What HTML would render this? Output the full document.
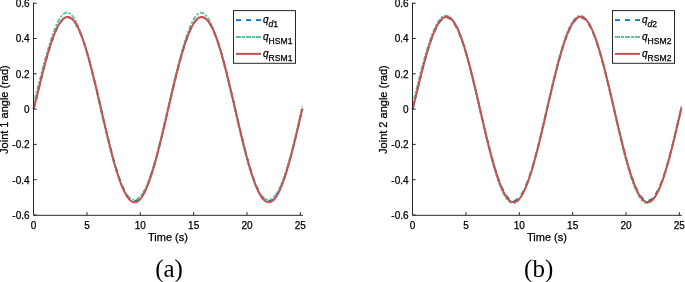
<!DOCTYPE html>
<html><head><meta charset="utf-8"><style>
html,body{margin:0;padding:0;background:#fff;}
body{width:685px;height:282px;overflow:hidden;}
svg{display:block;}
.tl{font-family:"Liberation Sans",Arial,sans-serif;font-size:10px;fill:#000;stroke:#000;stroke-width:0.25px;}
.lg{font-family:"Liberation Sans",Arial,sans-serif;font-size:10px;fill:#000;stroke:#000;stroke-width:0.25px;}
.it{font-style:italic;}
.sub{font-size:8.6px;}
.lb{font-family:"Liberation Sans",Arial,sans-serif;font-size:11px;fill:#000;stroke:#000;stroke-width:0.25px;}
.cap{font-family:"Liberation Serif","Times New Roman",serif;font-size:25px;fill:#000;}
</style></head><body>
<svg width="685" height="282" viewBox="0 0 685 282">
<rect width="685" height="282" fill="#fff"/>
<g transform="translate(0.0,0)">
<path d="M33.60,109.10 L34.27,106.64 L34.94,104.11 L35.62,101.51 L36.29,98.86 L36.96,96.18 L37.63,93.48 L38.30,90.76 L38.98,88.03 L39.65,85.31 L40.32,82.59 L40.99,79.89 L41.66,77.21 L42.34,74.54 L43.01,71.91 L43.68,69.31 L44.35,66.74 L45.02,64.21 L45.70,61.72 L46.37,59.28 L47.04,56.88 L47.71,54.54 L48.38,52.25 L49.06,50.01 L49.73,47.83 L50.40,45.71 L51.07,43.65 L51.74,41.66 L52.42,39.74 L53.09,37.88 L53.76,36.09 L54.43,34.38 L55.10,32.74 L55.78,31.17 L56.45,29.68 L57.12,28.28 L57.79,26.95 L58.46,25.70 L59.14,24.53 L59.81,23.45 L60.48,22.46 L61.15,21.55 L61.82,20.72 L62.50,19.99 L63.17,19.34 L63.84,18.78 L64.51,18.31 L65.18,17.93 L65.86,17.65 L66.53,17.45 L67.20,17.34 L67.87,17.32 L68.54,17.40 L69.22,17.57 L69.89,17.82 L70.56,18.17 L71.23,18.61 L71.90,19.13 L72.58,19.75 L73.25,20.46 L73.92,21.25 L74.59,22.13 L75.27,23.10 L75.94,24.15 L76.61,25.28 L77.28,26.50 L77.95,27.80 L78.63,29.18 L79.30,30.64 L79.97,32.18 L80.64,33.80 L81.31,35.49 L81.99,37.25 L82.66,39.08 L83.33,40.99 L84.00,42.96 L84.67,44.99 L85.35,47.09 L86.02,49.25 L86.69,51.47 L87.36,53.75 L88.03,56.08 L88.71,58.47 L89.38,60.91 L90.05,63.39 L90.72,65.92 L91.39,68.49 L92.07,71.10 L92.74,73.75 L93.41,76.43 L94.08,79.15 L94.75,81.90 L95.43,84.67 L96.10,87.47 L96.77,90.29 L97.44,93.12 L98.11,95.98 L98.79,98.84 L99.46,101.72 L100.13,104.61 L100.80,107.49 L101.47,110.38 L102.15,113.27 L102.82,116.16 L103.49,119.04 L104.16,121.90 L104.83,124.76 L105.51,127.60 L106.18,130.42 L106.85,133.22 L107.52,136.00 L108.19,138.75 L108.87,141.47 L109.54,144.15 L110.21,146.81 L110.88,149.42 L111.55,152.00 L112.23,154.53 L112.90,157.02 L113.57,159.46 L114.24,161.85 L114.91,164.19 L115.59,166.47 L116.26,168.70 L116.93,170.87 L117.60,172.98 L118.27,175.02 L118.95,177.00 L119.62,178.91 L120.29,180.75 L120.96,182.52 L121.63,184.22 L122.31,185.84 L122.98,187.39 L123.65,188.86 L124.32,190.25 L124.99,191.56 L125.67,192.79 L126.34,193.93 L127.01,194.99 L127.68,195.97 L128.35,196.86 L129.03,197.66 L129.70,198.37 L130.37,199.00 L131.04,199.54 L131.71,199.99 L132.39,200.34 L133.06,200.61 L133.73,200.79 L134.40,200.87 L135.07,200.87 L135.75,200.77 L136.42,200.58 L137.09,200.30 L137.76,199.93 L138.43,199.48 L139.11,198.93 L139.78,198.29 L140.45,197.56 L141.12,196.75 L141.79,195.85 L142.47,194.86 L143.14,193.79 L143.81,192.63 L144.48,191.40 L145.15,190.08 L145.83,188.68 L146.50,187.20 L147.17,185.64 L147.84,184.01 L148.51,182.30 L149.19,180.52 L149.86,178.67 L150.53,176.75 L151.20,174.76 L151.87,172.71 L152.55,170.60 L153.22,168.42 L153.89,166.19 L154.56,163.90 L155.23,161.55 L155.91,159.15 L156.58,156.71 L157.25,154.21 L157.92,151.67 L158.60,149.09 L159.27,146.47 L159.94,143.81 L160.61,141.12 L161.28,138.40 L161.96,135.65 L162.63,132.87 L163.30,130.06 L163.97,127.24 L164.64,124.40 L165.32,121.54 L165.99,118.67 L166.66,115.79 L167.33,112.91 L168.00,110.02 L168.68,107.13 L169.35,104.24 L170.02,101.36 L170.69,98.48 L171.36,95.62 L172.04,92.76 L172.71,89.93 L173.38,87.11 L174.05,84.32 L174.72,81.55 L175.40,78.80 L176.07,76.09 L176.74,73.41 L177.41,70.77 L178.08,68.16 L178.76,65.59 L179.43,63.07 L180.10,60.59 L180.77,58.16 L181.44,55.79 L182.12,53.46 L182.79,51.19 L183.46,48.98 L184.13,46.82 L184.80,44.73 L185.48,42.70 L186.15,40.74 L186.82,38.85 L187.49,37.02 L188.16,35.27 L188.84,33.59 L189.51,31.98 L190.18,30.45 L190.85,29.00 L191.52,27.63 L192.20,26.34 L192.87,25.13 L193.54,24.01 L194.21,22.97 L194.88,22.01 L195.56,21.14 L196.23,20.36 L196.90,19.67 L197.57,19.06 L198.24,18.55 L198.92,18.12 L199.59,17.79 L200.26,17.54 L200.93,17.39 L201.60,17.32 L202.28,17.35 L202.95,17.47 L203.62,17.68 L204.29,17.98 L204.96,18.37 L205.64,18.85 L206.31,19.42 L206.98,20.08 L207.65,20.82 L208.32,21.66 L209.00,22.58 L209.67,23.59 L210.34,24.68 L211.01,25.85 L211.68,27.11 L212.36,28.45 L213.03,29.87 L213.70,31.37 L214.37,32.94 L215.04,34.59 L215.72,36.32 L216.39,38.11 L217.06,39.98 L217.73,41.92 L218.40,43.92 L219.08,45.99 L219.75,48.11 L220.42,50.30 L221.09,52.55 L221.76,54.86 L222.44,57.21 L223.11,59.62 L223.78,62.08 L224.45,64.59 L225.12,67.14 L225.80,69.73 L226.47,72.36 L227.14,75.02 L227.81,77.72 L228.48,80.45 L229.16,83.21 L229.83,86.00 L230.50,88.81 L231.17,91.64 L231.84,94.48 L232.52,97.34 L233.19,100.21 L233.86,103.09 L234.53,105.98 L235.20,108.87 L235.88,111.76 L236.55,114.65 L237.22,117.53 L237.89,120.40 L238.56,123.26 L239.24,126.11 L239.91,128.94 L240.58,131.76 L241.25,134.54 L241.93,137.31 L242.60,140.04 L243.27,142.75 L243.94,145.42 L244.61,148.06 L245.29,150.65 L245.96,153.21 L246.63,155.72 L247.30,158.19 L247.97,160.61 L248.65,162.97 L249.32,165.29 L249.99,167.54 L250.66,169.74 L251.33,171.88 L252.01,173.96 L252.68,175.97 L253.35,177.92 L254.02,179.79 L254.69,181.60 L255.37,183.34 L256.04,185.00 L256.71,186.59 L257.38,188.10 L258.05,189.53 L258.73,190.88 L259.40,192.15 L260.07,193.34 L260.74,194.45 L261.41,195.47 L262.09,196.40 L262.76,197.25 L263.43,198.01 L264.10,198.68 L264.77,199.27 L265.45,199.76 L266.12,200.17 L266.79,200.48 L267.46,200.71 L268.13,200.84 L268.81,200.88 L269.48,200.83 L270.15,200.69 L270.82,200.46 L271.49,200.14 L272.17,199.73 L272.84,199.22 L273.51,198.63 L274.18,197.95 L274.85,197.19 L275.53,196.33 L276.20,195.39 L276.87,194.36 L277.54,193.25 L278.21,192.05 L278.89,190.78 L279.56,189.42 L280.23,187.98 L280.90,186.46 L281.57,184.87 L282.25,183.20 L282.92,181.46 L283.59,179.65 L284.26,177.76 L284.93,175.81 L285.61,173.80 L286.28,171.71 L286.95,169.57 L287.62,167.37 L288.29,165.10 L288.97,162.79 L289.64,160.42 L290.31,158.00 L290.98,155.53 L291.65,153.01 L292.33,150.45 L293.00,147.85 L293.67,145.21 L294.34,142.54 L295.01,139.83 L295.69,137.09 L296.36,134.32 L297.03,131.53 L297.70,128.72 L298.37,125.89 L299.05,123.04 L299.72,120.17 L300.39,117.30 L301.06,114.42 L301.73,111.53 L302.41,108.64" fill="none" stroke="#0072BD" stroke-width="1.8" stroke-dasharray="5 5"/>
<path d="M33.60,109.10 L34.27,101.42 L34.94,98.61 L35.62,95.98 L36.29,93.34 L36.96,90.70 L37.63,88.06 L38.30,85.42 L38.98,82.79 L39.65,80.16 L40.32,77.54 L40.99,74.94 L41.66,72.36 L42.34,69.79 L43.01,67.24 L43.68,64.72 L44.35,62.23 L45.02,59.76 L45.70,57.33 L46.37,54.93 L47.04,52.57 L47.71,50.25 L48.38,47.98 L49.06,45.74 L49.73,43.56 L50.40,41.42 L51.07,39.34 L51.74,37.32 L52.42,35.36 L53.09,33.45 L53.76,31.61 L54.43,29.84 L55.10,28.14 L55.78,26.52 L56.45,24.97 L57.12,23.49 L57.79,22.10 L58.46,20.80 L59.14,19.58 L59.81,18.45 L60.48,17.42 L61.15,16.47 L61.82,15.63 L62.50,14.88 L63.17,14.23 L63.84,13.68 L64.51,13.24 L65.18,12.90 L65.86,12.66 L66.53,12.53 L67.20,12.50 L67.87,12.58 L68.54,12.77 L69.22,13.06 L69.89,13.46 L70.56,13.96 L71.23,14.56 L71.90,15.26 L72.58,16.07 L73.25,16.97 L73.92,17.97 L74.59,19.06 L75.27,20.25 L75.94,21.53 L76.61,22.89 L77.28,24.34 L77.95,25.88 L78.63,27.49 L79.30,29.18 L79.97,30.95 L80.64,32.79 L81.31,34.70 L81.99,36.68 L82.66,38.73 L83.33,40.83 L84.00,42.99 L84.67,45.22 L85.35,47.49 L86.02,49.82 L86.69,52.20 L87.36,54.62 L88.03,57.09 L88.71,59.61 L89.38,62.16 L90.05,64.75 L90.72,67.38 L91.39,70.05 L92.07,72.75 L92.74,75.47 L93.41,78.23 L94.08,81.01 L94.75,83.82 L95.43,86.65 L96.10,89.50 L96.77,92.36 L97.44,95.24 L98.11,98.14 L98.79,101.04 L99.46,103.95 L100.13,106.87 L100.80,109.79 L101.47,112.70 L102.15,115.62 L102.82,118.52 L103.49,121.42 L104.16,124.31 L104.83,127.18 L105.51,130.03 L106.18,132.86 L106.85,135.66 L107.52,138.44 L108.19,141.18 L108.87,143.89 L109.54,146.56 L110.21,149.20 L110.88,151.79 L111.55,154.33 L112.23,156.83 L112.90,159.27 L113.57,161.66 L114.24,163.99 L114.91,166.27 L115.59,168.48 L116.26,170.63 L116.93,172.71 L117.60,174.73 L118.27,176.67 L118.95,178.55 L119.62,180.35 L120.29,182.08 L120.96,183.74 L121.63,185.31 L122.31,186.81 L122.98,188.23 L123.65,189.57 L124.32,190.83 L124.99,192.01 L125.67,193.11 L126.34,194.13 L127.01,195.06 L127.68,195.91 L128.35,196.68 L129.03,197.36 L129.70,197.96 L130.37,198.48 L131.04,198.91 L131.71,199.26 L132.39,199.53 L133.06,199.71 L133.73,199.80 L134.40,199.82 L135.07,199.74 L135.75,199.59 L136.42,199.35 L137.09,199.02 L137.76,198.61 L138.43,198.12 L139.11,197.54 L139.78,196.88 L140.45,196.14 L141.12,195.31 L141.79,194.40 L142.47,193.41 L143.14,192.34 L143.81,191.18 L144.48,189.94 L145.15,188.63 L145.83,187.23 L146.50,185.75 L147.17,184.20 L147.84,182.56 L148.51,180.86 L149.19,179.07 L149.86,177.22 L150.53,175.29 L151.20,173.30 L151.87,171.23 L152.55,169.10 L153.22,166.91 L153.89,164.65 L154.56,162.33 L155.23,159.96 L155.91,157.53 L156.58,155.05 L157.25,152.52 L157.92,149.94 L158.60,147.32 L159.27,144.66 L159.94,141.96 L160.61,139.23 L161.28,136.46 L161.96,133.67 L162.63,130.84 L163.30,128.00 L163.97,125.14 L164.64,122.25 L165.32,119.36 L165.99,116.46 L166.66,113.54 L167.33,110.63 L168.00,107.71 L168.68,104.79 L169.35,101.88 L170.02,98.98 L170.69,96.08 L171.36,93.20 L172.04,90.33 L172.71,87.47 L173.38,84.64 L174.05,81.83 L174.72,79.04 L175.40,76.28 L176.07,73.54 L176.74,70.84 L177.41,68.17 L178.08,65.53 L178.76,62.93 L179.43,60.36 L180.10,57.84 L180.77,55.36 L181.44,52.92 L182.12,50.53 L182.79,48.19 L183.46,45.90 L184.13,43.67 L184.80,41.49 L185.48,39.37 L186.15,37.31 L186.82,35.32 L187.49,33.40 L188.16,31.54 L188.84,29.75 L189.51,28.04 L190.18,26.41 L190.85,24.86 L191.52,23.39 L192.20,22.00 L192.87,20.71 L193.54,19.50 L194.21,18.39 L194.88,17.37 L195.56,16.45 L196.23,15.62 L196.90,14.90 L197.57,14.28 L198.24,13.76 L198.92,13.35 L199.59,13.04 L200.26,12.84 L200.93,12.74 L201.60,12.75 L202.28,12.87 L202.95,13.09 L203.62,13.42 L204.29,13.85 L204.96,14.39 L205.64,15.03 L206.31,15.77 L206.98,16.62 L207.65,17.56 L208.32,18.59 L209.00,19.73 L209.67,20.95 L210.34,22.26 L211.01,23.66 L211.68,25.15 L212.36,26.72 L213.03,28.36 L213.70,30.09 L214.37,31.89 L215.04,33.76 L215.72,35.70 L216.39,37.70 L217.06,39.77 L217.73,41.90 L218.40,44.09 L219.08,46.34 L219.75,48.63 L220.42,50.98 L221.09,53.38 L221.76,55.83 L222.44,58.32 L223.11,60.85 L223.78,63.42 L224.45,66.03 L225.12,68.67 L225.80,71.35 L226.47,74.06 L227.14,76.80 L227.81,79.57 L228.48,82.36 L229.16,85.18 L229.83,88.02 L230.50,90.87 L231.17,93.75 L231.84,96.63 L232.52,99.53 L233.19,102.44 L233.86,105.35 L234.53,108.27 L235.20,111.18 L235.88,114.10 L236.55,117.01 L237.22,119.91 L237.89,122.81 L238.56,125.68 L239.24,128.54 L239.91,131.38 L240.58,134.20 L241.25,136.99 L241.93,139.75 L242.60,142.48 L243.27,145.17 L243.94,147.83 L244.61,150.44 L245.29,153.01 L245.96,155.53 L246.63,158.00 L247.30,160.42 L247.97,162.78 L248.65,165.09 L249.32,167.33 L249.99,169.51 L250.66,171.63 L251.33,173.68 L252.01,175.67 L252.68,177.58 L253.35,179.42 L254.02,181.19 L254.69,182.88 L255.37,184.50 L256.04,186.04 L256.71,187.50 L257.38,188.88 L258.05,190.19 L258.73,191.41 L259.40,192.55 L260.07,193.61 L260.74,194.58 L261.41,195.48 L262.09,196.29 L262.76,197.02 L263.43,197.66 L264.10,198.22 L264.77,198.70 L265.45,199.09 L266.12,199.40 L266.79,199.62 L267.46,199.76 L268.13,199.82 L268.81,199.79 L269.48,199.68 L270.15,199.48 L270.82,199.20 L271.49,198.84 L272.17,198.39 L272.84,197.86 L273.51,197.24 L274.18,196.54 L274.85,195.76 L275.53,194.89 L276.20,193.94 L276.87,192.91 L277.54,191.80 L278.21,190.60 L278.89,189.33 L279.56,187.97 L280.23,186.53 L280.90,185.02 L281.57,183.43 L282.25,181.76 L282.92,180.02 L283.59,178.20 L284.26,176.31 L284.93,174.35 L285.61,172.32 L286.28,170.23 L286.95,168.06 L287.62,165.84 L288.29,163.55 L288.97,161.21 L289.64,158.81 L290.31,156.36 L290.98,153.85 L291.65,151.30 L292.33,148.70 L293.00,146.06 L293.67,143.38 L294.34,140.66 L295.01,137.91 L295.69,135.13 L296.36,132.32 L297.03,129.49 L297.70,126.64 L298.37,123.77 L299.05,120.88 L299.72,117.98 L300.39,115.07 L301.06,112.16 L301.73,109.24 L302.41,106.32" fill="none" stroke="#5DC29F" stroke-width="1.8" stroke-dasharray="4.5 1.5 2.5 1.5"/>
<path d="M33.60,109.10 L34.27,106.58 L34.94,103.98 L35.62,101.33 L36.29,98.64 L36.96,95.92 L37.63,93.18 L38.30,90.43 L38.98,87.68 L39.65,84.93 L40.32,82.19 L40.99,79.47 L41.66,76.76 L42.34,74.09 L43.01,71.44 L43.68,68.83 L44.35,66.25 L45.02,63.71 L45.70,61.22 L46.37,58.77 L47.04,56.37 L47.71,54.02 L48.38,51.72 L49.06,49.49 L49.73,47.31 L50.40,45.19 L51.07,43.13 L51.74,41.14 L52.42,39.22 L53.09,37.37 L53.76,35.59 L54.43,33.88 L55.10,32.24 L55.78,30.68 L56.45,29.20 L57.12,27.80 L57.79,26.48 L58.46,25.24 L59.14,24.08 L59.81,23.01 L60.48,22.02 L61.15,21.12 L61.82,20.30 L62.50,19.58 L63.17,18.94 L63.84,18.39 L64.51,17.92 L65.18,17.55 L65.86,17.27 L66.53,17.08 L67.20,16.98 L67.87,16.97 L68.54,17.06 L69.22,17.23 L69.89,17.49 L70.56,17.85 L71.23,18.29 L71.90,18.82 L72.58,19.45 L73.25,20.16 L73.92,20.96 L74.59,21.84 L75.27,22.81 L75.94,23.87 L76.61,25.01 L77.28,26.24 L77.95,27.54 L78.63,28.93 L79.30,30.40 L79.97,31.94 L80.64,33.56 L81.31,35.26 L81.99,37.03 L82.66,38.87 L83.33,40.78 L84.00,42.76 L84.67,44.80 L85.35,46.91 L86.02,49.08 L86.69,51.31 L87.36,53.60 L88.03,55.94 L88.71,58.34 L89.38,60.78 L90.05,63.28 L90.72,65.82 L91.39,68.41 L92.07,71.04 L92.74,73.70 L93.41,76.40 L94.08,79.14 L94.75,81.90 L95.43,84.70 L96.10,87.51 L96.77,90.35 L97.44,93.21 L98.11,96.09 L98.79,98.98 L99.46,101.88 L100.13,104.79 L100.80,107.71 L101.47,110.63 L102.15,113.55 L102.82,116.46 L103.49,119.37 L104.16,122.27 L104.83,125.15 L105.51,128.02 L106.18,130.88 L106.85,133.71 L107.52,136.52 L108.19,139.31 L108.87,142.06 L109.54,144.78 L110.21,147.47 L110.88,150.12 L111.55,152.73 L112.23,155.30 L112.90,157.82 L113.57,160.30 L114.24,162.72 L114.91,165.10 L115.59,167.42 L116.26,169.68 L116.93,171.88 L117.60,174.01 L118.27,176.09 L118.95,178.10 L119.62,180.04 L120.29,181.91 L120.96,183.71 L121.63,185.43 L122.31,187.08 L122.98,188.65 L123.65,190.14 L124.32,191.55 L124.99,192.88 L125.67,194.13 L126.34,195.29 L127.01,196.36 L127.68,197.35 L128.35,198.25 L129.03,199.07 L129.70,199.79 L130.37,200.42 L131.04,200.96 L131.71,201.41 L132.39,201.77 L133.06,202.03 L133.73,202.21 L134.40,202.29 L135.07,202.27 L135.75,202.17 L136.42,201.97 L137.09,201.68 L137.76,201.29 L138.43,200.82 L139.11,200.25 L139.78,199.59 L140.45,198.84 L141.12,198.01 L141.79,197.08 L142.47,196.07 L143.14,194.96 L143.81,193.78 L144.48,192.51 L145.15,191.16 L145.83,189.72 L146.50,188.21 L147.17,186.61 L147.84,184.94 L148.51,183.20 L149.19,181.38 L149.86,179.49 L150.53,177.53 L151.20,175.50 L151.87,173.41 L152.55,171.25 L153.22,169.04 L153.89,166.76 L154.56,164.43 L155.23,162.04 L155.91,159.60 L156.58,157.11 L157.25,154.57 L157.92,151.99 L158.60,149.37 L159.27,146.71 L159.94,144.01 L160.61,141.28 L161.28,138.51 L161.96,135.72 L162.63,132.91 L163.30,130.07 L163.97,127.21 L164.64,124.33 L165.32,121.44 L165.99,118.54 L166.66,115.63 L167.33,112.71 L168.00,109.79 L168.68,106.88 L169.35,103.96 L170.02,101.06 L170.69,98.16 L171.36,95.27 L172.04,92.40 L172.71,89.54 L173.38,86.71 L174.05,83.90 L174.72,81.11 L175.40,78.35 L176.07,75.63 L176.74,72.94 L177.41,70.28 L178.08,67.67 L178.76,65.09 L179.43,62.56 L180.10,60.08 L180.77,57.65 L181.44,55.27 L182.12,52.94 L182.79,50.67 L183.46,48.45 L184.13,46.30 L184.80,44.21 L185.48,42.18 L186.15,40.22 L186.82,38.33 L187.49,36.51 L188.16,34.77 L188.84,33.09 L189.51,31.49 L190.18,29.97 L190.85,28.53 L191.52,27.16 L192.20,25.88 L192.87,24.68 L193.54,23.56 L194.21,22.53 L194.88,21.58 L195.56,20.72 L196.23,19.95 L196.90,19.26 L197.57,18.66 L198.24,18.15 L198.92,17.74 L199.59,17.41 L200.26,17.17 L200.93,17.02 L201.60,16.97 L202.28,17.00 L202.95,17.13 L203.62,17.34 L204.29,17.65 L204.96,18.05 L205.64,18.53 L206.31,19.11 L206.98,19.77 L207.65,20.53 L208.32,21.37 L209.00,22.29 L209.67,23.31 L210.34,24.40 L211.01,25.58 L211.68,26.85 L212.36,28.19 L213.03,29.62 L213.70,31.12 L214.37,32.70 L215.04,34.36 L215.72,36.09 L216.39,37.89 L217.06,39.77 L217.73,41.71 L218.40,43.72 L219.08,45.80 L219.75,47.93 L220.42,50.13 L221.09,52.39 L221.76,54.71 L222.44,57.07 L223.11,59.50 L223.78,61.97 L224.45,64.49 L225.12,67.05 L225.80,69.65 L226.47,72.30 L227.14,74.98 L227.81,77.70 L228.48,80.45 L229.16,83.23 L229.83,86.03 L230.50,88.86 L231.17,91.71 L231.84,94.58 L232.52,97.47 L233.19,100.36 L233.86,103.27 L234.53,106.18 L235.20,109.10 L235.88,112.02 L236.55,114.93 L237.22,117.85 L237.89,120.75 L238.56,123.64 L239.24,126.52 L239.91,129.39 L240.58,132.23 L241.25,135.05 L241.93,137.85 L242.60,140.62 L243.27,143.36 L243.94,146.07 L244.61,148.74 L245.29,151.37 L245.96,153.96 L246.63,156.51 L247.30,159.01 L247.97,161.46 L248.65,163.86 L249.32,166.21 L249.99,168.50 L250.66,170.73 L251.33,172.90 L252.01,175.01 L252.68,177.05 L253.35,179.03 L254.02,180.94 L254.69,182.77 L255.37,184.54 L256.04,186.22 L256.71,187.84 L257.38,189.37 L258.05,190.82 L258.73,192.19 L259.40,193.48 L260.07,194.69 L260.74,195.81 L261.41,196.85 L262.09,197.79 L262.76,198.65 L263.43,199.42 L264.10,200.10 L264.77,200.69 L265.45,201.19 L266.12,201.59 L266.79,201.91 L267.46,202.13 L268.13,202.26 L268.81,202.29 L269.48,202.23 L270.15,202.08 L270.82,201.84 L271.49,201.50 L272.17,201.08 L272.84,200.56 L273.51,199.95 L274.18,199.25 L274.85,198.45 L275.53,197.58 L276.20,196.61 L276.87,195.55 L277.54,194.41 L278.21,193.18 L278.89,191.88 L279.56,190.48 L280.23,189.01 L280.90,187.46 L281.57,185.83 L282.25,184.12 L282.92,182.34 L283.59,180.49 L284.26,178.57 L284.93,176.57 L285.61,174.51 L286.28,172.39 L286.95,170.20 L287.62,167.96 L288.29,165.65 L288.97,163.29 L289.64,160.88 L290.31,158.42 L290.98,155.91 L291.65,153.35 L292.33,150.75 L293.00,148.11 L293.67,145.43 L294.34,142.71 L295.01,139.96 L295.69,137.19 L296.36,134.38 L297.03,131.56 L297.70,128.71 L298.37,125.84 L299.05,122.95 L299.72,120.06 L300.39,117.15 L301.06,114.24 L301.73,111.32 L302.41,108.41" fill="none" stroke="#C8504F" stroke-width="2"/>
<path d="M33.5,2.7 V215.3 H302.91" fill="none" stroke="#262626" stroke-width="1"/>
<path d="M33.5,215.00 h3.2" stroke="#262626" stroke-width="1"/>
<text x="29.6" y="218.90" text-anchor="end" class="tl">-0.6</text>
<path d="M33.5,179.70 h3.2" stroke="#262626" stroke-width="1"/>
<text x="29.6" y="183.60" text-anchor="end" class="tl">-0.4</text>
<path d="M33.5,144.40 h3.2" stroke="#262626" stroke-width="1"/>
<text x="29.6" y="148.30" text-anchor="end" class="tl">-0.2</text>
<path d="M33.5,109.10 h3.2" stroke="#262626" stroke-width="1"/>
<text x="29.6" y="113.00" text-anchor="end" class="tl">0</text>
<path d="M33.5,73.80 h3.2" stroke="#262626" stroke-width="1"/>
<text x="29.6" y="77.70" text-anchor="end" class="tl">0.2</text>
<path d="M33.5,38.50 h3.2" stroke="#262626" stroke-width="1"/>
<text x="29.6" y="42.40" text-anchor="end" class="tl">0.4</text>
<path d="M33.5,3.20 h3.2" stroke="#262626" stroke-width="1"/>
<text x="29.6" y="7.10" text-anchor="end" class="tl">0.6</text>
<text x="33.60" y="228.8" text-anchor="middle" class="tl">0</text>
<path d="M86.95,215.3 v-3.2" stroke="#262626" stroke-width="1"/>
<text x="86.95" y="228.8" text-anchor="middle" class="tl">5</text>
<path d="M140.30,215.3 v-3.2" stroke="#262626" stroke-width="1"/>
<text x="140.30" y="228.8" text-anchor="middle" class="tl">10</text>
<path d="M193.65,215.3 v-3.2" stroke="#262626" stroke-width="1"/>
<text x="193.65" y="228.8" text-anchor="middle" class="tl">15</text>
<path d="M247.00,215.3 v-3.2" stroke="#262626" stroke-width="1"/>
<text x="247.00" y="228.8" text-anchor="middle" class="tl">20</text>
<path d="M300.35,215.3 v-3.2" stroke="#262626" stroke-width="1"/>
<text x="300.35" y="228.8" text-anchor="middle" class="tl">25</text>
<text x="168" y="240.9" text-anchor="middle" class="lb">Time (s)</text>
<text transform="translate(8.0,109.6) rotate(-90)" text-anchor="middle" class="lb">Joint 1 angle (rad)</text>
<rect x="233.5" y="10.6" width="62" height="52.7" fill="#fff" stroke="#262626" stroke-width="1"/>
<path d="M236,20.1 H261" stroke="#0072BD" stroke-width="1.8" stroke-dasharray="5 5"/>
<path d="M236,37 H261" stroke="#5DC29F" stroke-width="1.8" stroke-dasharray="5 1 3 1"/>
<path d="M236,53.9 H261" stroke="#C8504F" stroke-width="2"/>
<text x="263" y="22.5" class="lg"><tspan class="it">q</tspan><tspan class="sub" dy="4.3"><tspan class="it">d</tspan>1</tspan></text>
<text x="263" y="39.55" class="lg"><tspan class="it">q</tspan><tspan class="sub" dy="4.3">HSM1</tspan></text>
<text x="263" y="56.6" class="lg"><tspan class="it">q</tspan><tspan class="sub" dy="4.3">RSM1</tspan></text>
</g>
<g transform="translate(379.0,0)">
<path d="M33.60,109.10 L34.27,106.48 L34.94,103.80 L35.62,101.10 L36.29,98.37 L36.96,95.62 L37.63,92.86 L38.30,90.10 L38.98,87.35 L39.65,84.61 L40.32,81.88 L40.99,79.17 L41.66,76.48 L42.34,73.82 L43.01,71.19 L43.68,68.60 L44.35,66.04 L45.02,63.52 L45.70,61.05 L46.37,58.62 L47.04,56.25 L47.71,53.92 L48.38,51.65 L49.06,49.43 L49.73,47.27 L50.40,45.18 L51.07,43.14 L51.74,41.18 L52.42,39.27 L53.09,37.44 L53.76,35.68 L54.43,33.99 L55.10,32.38 L55.78,30.84 L56.45,29.38 L57.12,28.00 L57.79,26.70 L58.46,25.48 L59.14,24.35 L59.81,23.29 L60.48,22.33 L61.15,21.44 L61.82,20.65 L62.50,19.94 L63.17,19.33 L63.84,18.80 L64.51,18.36 L65.18,18.01 L65.86,17.75 L66.53,17.58 L67.20,17.50 L67.87,17.52 L68.54,17.62 L69.22,17.81 L69.89,18.10 L70.56,18.47 L71.23,18.94 L71.90,19.49 L72.58,20.14 L73.25,20.87 L73.92,21.69 L74.59,22.59 L75.27,23.58 L75.94,24.66 L76.61,25.82 L77.28,27.06 L77.95,28.39 L78.63,29.79 L79.30,31.27 L79.97,32.83 L80.64,34.47 L81.31,36.18 L81.99,37.96 L82.66,39.81 L83.33,41.73 L84.00,43.72 L84.67,45.77 L85.35,47.89 L86.02,50.07 L86.69,52.30 L87.36,54.59 L88.03,56.94 L88.71,59.33 L89.38,61.78 L90.05,64.27 L90.72,66.81 L91.39,69.39 L92.07,72.01 L92.74,74.66 L93.41,77.35 L94.08,80.08 L94.75,82.83 L95.43,85.60 L96.10,88.40 L96.77,91.22 L97.44,94.06 L98.11,96.91 L98.79,99.78 L99.46,102.65 L100.13,105.53 L100.80,108.41 L101.47,111.30 L102.15,114.18 L102.82,117.06 L103.49,119.93 L104.16,122.78 L104.83,125.63 L105.51,128.46 L106.18,131.27 L106.85,134.06 L107.52,136.82 L108.19,139.55 L108.87,142.26 L109.54,144.93 L110.21,147.57 L110.88,150.17 L111.55,152.72 L112.23,155.24 L112.90,157.71 L113.57,160.13 L114.24,162.50 L114.91,164.81 L115.59,167.08 L116.26,169.28 L116.93,171.43 L117.60,173.51 L118.27,175.53 L118.95,177.48 L119.62,179.37 L120.29,181.18 L120.96,182.93 L121.63,184.60 L122.31,186.19 L122.98,187.71 L123.65,189.15 L124.32,190.52 L124.99,191.80 L125.67,193.00 L126.34,194.11 L127.01,195.15 L127.68,196.09 L128.35,196.95 L129.03,197.73 L129.70,198.41 L130.37,199.01 L131.04,199.52 L131.71,199.93 L132.39,200.26 L133.06,200.50 L133.73,200.65 L134.40,200.70 L135.07,200.67 L135.75,200.54 L136.42,200.33 L137.09,200.02 L137.76,199.62 L138.43,199.14 L139.11,198.56 L139.78,197.90 L140.45,197.14 L141.12,196.30 L141.79,195.38 L142.47,194.37 L143.14,193.27 L143.81,192.09 L144.48,190.83 L145.15,189.49 L145.83,188.06 L146.50,186.56 L147.17,184.98 L147.84,183.33 L148.51,181.60 L149.19,179.80 L149.86,177.94 L150.53,176.00 L151.20,173.99 L151.87,171.93 L152.55,169.80 L153.22,167.61 L153.89,165.36 L154.56,163.05 L155.23,160.70 L155.91,158.29 L156.58,155.83 L157.25,153.33 L157.92,150.78 L158.60,148.19 L159.27,145.56 L159.94,142.90 L160.61,140.20 L161.28,137.47 L161.96,134.72 L162.63,131.93 L163.30,129.13 L163.97,126.31 L164.64,123.46 L165.32,120.61 L165.99,117.74 L166.66,114.87 L167.33,111.98 L168.00,109.10 L168.68,106.22 L169.35,103.33 L170.02,100.46 L170.69,97.59 L171.36,94.74 L172.04,91.89 L172.71,89.07 L173.38,86.27 L174.05,83.48 L174.72,80.73 L175.40,78.00 L176.07,75.30 L176.74,72.64 L177.41,70.01 L178.08,67.42 L178.76,64.87 L179.43,62.37 L180.10,59.91 L180.77,57.50 L181.44,55.15 L182.12,52.84 L182.79,50.59 L183.46,48.40 L184.13,46.27 L184.80,44.21 L185.48,42.20 L186.15,40.26 L186.82,38.40 L187.49,36.60 L188.16,34.87 L188.84,33.22 L189.51,31.64 L190.18,30.14 L190.85,28.71 L191.52,27.37 L192.20,26.11 L192.87,24.93 L193.54,23.83 L194.21,22.82 L194.88,21.90 L195.56,21.06 L196.23,20.30 L196.90,19.64 L197.57,19.06 L198.24,18.58 L198.92,18.18 L199.59,17.87 L200.26,17.66 L200.93,17.53 L201.60,17.50 L202.28,17.55 L202.95,17.70 L203.62,17.94 L204.29,18.27 L204.96,18.68 L205.64,19.19 L206.31,19.79 L206.98,20.47 L207.65,21.25 L208.32,22.11 L209.00,23.05 L209.67,24.09 L210.34,25.20 L211.01,26.40 L211.68,27.68 L212.36,29.05 L213.03,30.49 L213.70,32.01 L214.37,33.60 L215.04,35.27 L215.72,37.02 L216.39,38.83 L217.06,40.72 L217.73,42.67 L218.40,44.69 L219.08,46.77 L219.75,48.92 L220.42,51.12 L221.09,53.39 L221.76,55.70 L222.44,58.07 L223.11,60.49 L223.78,62.96 L224.45,65.48 L225.12,68.03 L225.80,70.63 L226.47,73.27 L227.14,75.94 L227.81,78.65 L228.48,81.38 L229.16,84.14 L229.83,86.93 L230.50,89.74 L231.17,92.57 L231.84,95.42 L232.52,98.27 L233.19,101.14 L233.86,104.02 L234.53,106.90 L235.20,109.79 L235.88,112.67 L236.55,115.55 L237.22,118.42 L237.89,121.29 L238.56,124.14 L239.24,126.98 L239.91,129.80 L240.58,132.60 L241.25,135.37 L241.93,138.12 L242.60,140.85 L243.27,143.54 L243.94,146.19 L244.61,148.81 L245.29,151.39 L245.96,153.93 L246.63,156.42 L247.30,158.87 L247.97,161.26 L248.65,163.61 L249.32,165.90 L249.99,168.13 L250.66,170.31 L251.33,172.43 L252.01,174.48 L252.68,176.47 L253.35,178.39 L254.02,180.24 L254.69,182.02 L255.37,183.73 L256.04,185.37 L256.71,186.93 L257.38,188.41 L258.05,189.81 L258.73,191.14 L259.40,192.38 L260.07,193.54 L260.74,194.62 L261.41,195.61 L262.09,196.51 L262.76,197.33 L263.43,198.06 L264.10,198.71 L264.77,199.26 L265.45,199.73 L266.12,200.10 L266.79,200.39 L267.46,200.58 L268.13,200.68 L268.81,200.70 L269.48,200.62 L270.15,200.45 L270.82,200.19 L271.49,199.84 L272.17,199.40 L272.84,198.87 L273.51,198.26 L274.18,197.55 L274.85,196.76 L275.53,195.87 L276.20,194.91 L276.87,193.85 L277.54,192.72 L278.21,191.50 L278.89,190.20 L279.56,188.82 L280.23,187.36 L280.90,185.82 L281.57,184.20 L282.25,182.52 L282.92,180.75 L283.59,178.92 L284.26,177.02 L284.93,175.05 L285.61,173.02 L286.28,170.92 L286.95,168.76 L287.62,166.54 L288.29,164.27 L288.97,161.94 L289.64,159.56 L290.31,157.12 L290.98,154.64 L291.65,152.12 L292.33,149.55 L293.00,146.94 L293.67,144.30 L294.34,141.62 L295.01,138.90 L295.69,136.16 L296.36,133.39 L297.03,130.60 L297.70,127.79 L298.37,124.95 L299.05,122.11 L299.72,119.24 L300.39,116.37 L301.06,113.49 L301.73,110.61 L302.41,107.73" fill="none" stroke="#0072BD" stroke-width="1.8" stroke-dasharray="5 5"/>
<path d="M33.60,109.10 L34.27,102.18 L34.94,99.32 L35.62,96.61 L36.29,93.90 L36.96,91.19 L37.63,88.49 L38.30,85.78 L38.98,83.09 L39.65,80.42 L40.32,77.75 L40.99,75.11 L41.66,72.50 L42.34,69.90 L43.01,67.34 L43.68,64.81 L44.35,62.32 L45.02,59.87 L45.70,57.46 L46.37,55.09 L47.04,52.77 L47.71,50.50 L48.38,48.28 L49.06,46.12 L49.73,44.01 L50.40,41.97 L51.07,39.99 L51.74,38.07 L52.42,36.21 L53.09,34.43 L53.76,32.72 L54.43,31.08 L55.10,29.51 L55.78,28.02 L56.45,26.61 L57.12,25.28 L57.79,24.02 L58.46,22.85 L59.14,21.76 L59.81,20.76 L60.48,19.84 L61.15,19.01 L61.82,18.27 L62.50,17.61 L63.17,17.05 L63.84,16.57 L64.51,16.18 L65.18,15.89 L65.86,15.68 L66.53,15.57 L67.20,15.54 L67.87,15.61 L68.54,15.77 L69.22,16.02 L69.89,16.37 L70.56,16.80 L71.23,17.32 L71.90,17.94 L72.58,18.64 L73.25,19.43 L73.92,20.31 L74.59,21.28 L75.27,22.34 L75.94,23.48 L76.61,24.70 L77.28,26.01 L77.95,27.40 L78.63,28.87 L79.30,30.41 L79.97,32.04 L80.64,33.74 L81.31,35.52 L81.99,37.37 L82.66,39.29 L83.33,41.28 L84.00,43.34 L84.67,45.46 L85.35,47.65 L86.02,49.89 L86.69,52.20 L87.36,54.56 L88.03,56.98 L88.71,59.44 L89.38,61.96 L90.05,64.53 L90.72,67.13 L91.39,69.79 L92.07,72.48 L92.74,75.20 L93.41,77.97 L94.08,80.76 L94.75,83.58 L95.43,86.43 L96.10,89.30 L96.77,92.19 L97.44,95.10 L98.11,98.02 L98.79,100.95 L99.46,103.89 L100.13,106.84 L100.80,109.79 L101.47,112.75 L102.15,115.69 L102.82,118.64 L103.49,121.57 L104.16,124.49 L104.83,127.40 L105.51,130.29 L106.18,133.16 L106.85,136.01 L107.52,138.83 L108.19,141.62 L108.87,144.38 L109.54,147.10 L110.21,149.79 L110.88,152.44 L111.55,155.05 L112.23,157.61 L112.90,160.12 L113.57,162.58 L114.24,164.99 L114.91,167.35 L115.59,169.64 L116.26,171.88 L116.93,174.06 L117.60,176.17 L118.27,178.21 L118.95,180.19 L119.62,182.10 L120.29,183.93 L120.96,185.69 L121.63,187.37 L122.31,188.98 L122.98,190.51 L123.65,191.95 L124.32,193.32 L124.99,194.60 L125.67,195.79 L126.34,196.90 L127.01,197.92 L127.68,198.85 L128.35,199.70 L129.03,200.45 L129.70,201.12 L130.37,201.69 L131.04,202.17 L131.71,202.55 L132.39,202.85 L133.06,203.05 L133.73,203.15 L134.40,203.17 L135.07,203.09 L135.75,202.91 L136.42,202.65 L137.09,202.29 L137.76,201.83 L138.43,201.29 L139.11,200.65 L139.78,199.92 L140.45,199.10 L141.12,198.20 L141.79,197.20 L142.47,196.12 L143.14,194.95 L143.81,193.69 L144.48,192.35 L145.15,190.93 L145.83,189.42 L146.50,187.84 L147.17,186.18 L147.84,184.44 L148.51,182.63 L149.19,180.74 L149.86,178.79 L150.53,176.76 L151.20,174.67 L151.87,172.51 L152.55,170.29 L153.22,168.01 L153.89,165.67 L154.56,163.28 L155.23,160.83 L155.91,158.33 L156.58,155.78 L157.25,153.19 L157.92,150.55 L158.60,147.88 L159.27,145.16 L159.94,142.41 L160.61,139.63 L161.28,136.82 L161.96,133.98 L162.63,131.12 L163.30,128.23 L163.97,125.33 L164.64,122.41 L165.32,119.48 L165.99,116.54 L166.66,113.60 L167.33,110.65 L168.00,107.69 L168.68,104.75 L169.35,101.80 L170.02,98.86 L170.69,95.94 L171.36,93.03 L172.04,90.13 L172.71,87.26 L173.38,84.40 L174.05,81.58 L174.72,78.78 L175.40,76.01 L176.07,73.27 L176.74,70.57 L177.41,67.91 L178.08,65.29 L178.76,62.71 L179.43,60.18 L180.10,57.70 L180.77,55.27 L181.44,52.90 L182.12,50.58 L182.79,48.31 L183.46,46.11 L184.13,43.98 L184.80,41.90 L185.48,39.90 L186.15,37.96 L186.82,36.09 L187.49,34.30 L188.16,32.58 L188.84,30.93 L189.51,29.36 L190.18,27.88 L190.85,26.47 L191.52,25.14 L192.20,23.90 L192.87,22.74 L193.54,21.67 L194.21,20.68 L194.88,19.78 L195.56,18.97 L196.23,18.25 L196.90,17.62 L197.57,17.08 L198.24,16.62 L198.92,16.27 L199.59,16.00 L200.26,15.82 L200.93,15.74 L201.60,15.75 L202.28,15.85 L202.95,16.04 L203.62,16.33 L204.29,16.70 L204.96,17.17 L205.64,17.73 L206.31,18.38 L206.98,19.12 L207.65,19.95 L208.32,20.86 L209.00,21.87 L209.67,22.95 L210.34,24.13 L211.01,25.39 L211.68,26.73 L212.36,28.15 L213.03,29.66 L213.70,31.24 L214.37,32.90 L215.04,34.63 L215.72,36.44 L216.39,38.32 L217.06,40.27 L217.73,42.29 L218.40,44.38 L219.08,46.53 L219.75,48.74 L220.42,51.01 L221.09,53.34 L221.76,55.73 L222.44,58.17 L223.11,60.66 L223.78,63.20 L224.45,65.78 L225.12,68.41 L225.80,71.08 L226.47,73.79 L227.14,76.53 L227.81,79.31 L228.48,82.11 L229.16,84.95 L229.83,87.80 L230.50,90.68 L231.17,93.58 L231.84,96.50 L232.52,99.42 L233.19,102.36 L233.86,105.31 L234.53,108.26 L235.20,111.21 L235.88,114.16 L236.55,117.10 L237.22,120.04 L237.89,122.97 L238.56,125.89 L239.24,128.79 L239.91,131.67 L240.58,134.52 L241.25,137.36 L241.93,140.16 L242.60,142.94 L243.27,145.68 L243.94,148.39 L244.61,151.06 L245.29,153.69 L245.96,156.27 L246.63,158.81 L247.30,161.30 L247.97,163.74 L248.65,166.12 L249.32,168.45 L249.99,170.72 L250.66,172.93 L251.33,175.07 L252.01,177.15 L252.68,179.16 L253.35,181.11 L254.02,182.98 L254.69,184.78 L255.37,186.50 L256.04,188.15 L256.71,189.72 L257.38,191.21 L258.05,192.61 L258.73,193.94 L259.40,195.18 L260.07,196.33 L260.74,197.40 L261.41,198.38 L262.09,199.27 L262.76,200.07 L263.43,200.78 L264.10,201.40 L264.77,201.93 L265.45,202.36 L266.12,202.71 L266.79,202.95 L267.46,203.11 L268.13,203.17 L268.81,203.14 L269.48,203.02 L270.15,202.80 L270.82,202.49 L271.49,202.08 L272.17,201.59 L272.84,201.00 L273.51,200.32 L274.18,199.54 L274.85,198.68 L275.53,197.73 L276.20,196.70 L276.87,195.57 L277.54,194.36 L278.21,193.06 L278.89,191.68 L279.56,190.22 L280.23,188.68 L280.90,187.06 L281.57,185.36 L282.25,183.59 L282.92,181.74 L283.59,179.82 L284.26,177.83 L284.93,175.77 L285.61,173.65 L286.28,171.46 L286.95,169.21 L287.62,166.90 L288.29,164.54 L288.97,162.12 L289.64,159.65 L290.31,157.12 L290.98,154.55 L291.65,151.94 L292.33,149.28 L293.00,146.59 L293.67,143.86 L294.34,141.09 L295.01,138.30 L295.69,135.47 L296.36,132.62 L297.03,129.75 L297.70,126.85 L298.37,123.94 L299.05,121.02 L299.72,118.08 L300.39,115.14 L301.06,112.19 L301.73,109.24 L302.41,106.29" fill="none" stroke="#5DC29F" stroke-width="1.8" stroke-dasharray="4.5 1.5 2.5 1.5"/>
<path d="M33.60,109.10 L34.27,106.53 L34.94,103.90 L35.62,101.22 L36.29,98.51 L36.96,95.77 L37.63,93.01 L38.30,90.25 L38.98,87.48 L39.65,84.73 L40.32,81.98 L40.99,79.25 L41.66,76.54 L42.34,73.86 L43.01,71.21 L43.68,68.59 L44.35,66.01 L45.02,63.47 L45.70,60.98 L46.37,58.53 L47.04,56.12 L47.71,53.77 L48.38,51.48 L49.06,49.24 L49.73,47.06 L50.40,44.94 L51.07,42.88 L51.74,40.89 L52.42,38.97 L53.09,37.12 L53.76,35.34 L54.43,33.63 L55.10,31.99 L55.78,30.44 L56.45,28.96 L57.12,27.56 L57.79,26.24 L58.46,25.00 L59.14,23.84 L59.81,22.77 L60.48,21.79 L61.15,20.89 L61.82,20.08 L62.50,19.35 L63.17,18.72 L63.84,18.17 L64.51,17.72 L65.18,17.35 L65.86,17.08 L66.53,16.90 L67.20,16.80 L67.87,16.80 L68.54,16.89 L69.22,17.07 L69.89,17.34 L70.56,17.71 L71.23,18.16 L71.90,18.70 L72.58,19.33 L73.25,20.05 L73.92,20.86 L74.59,21.76 L75.27,22.74 L75.94,23.81 L76.61,24.96 L77.28,26.19 L77.95,27.51 L78.63,28.91 L79.30,30.39 L79.97,31.94 L80.64,33.58 L81.31,35.28 L81.99,37.06 L82.66,38.91 L83.33,40.84 L84.00,42.82 L84.67,44.88 L85.35,47.00 L86.02,49.18 L86.69,51.42 L87.36,53.72 L88.03,56.07 L88.71,58.48 L89.38,60.93 L90.05,63.44 L90.72,65.99 L91.39,68.58 L92.07,71.22 L92.74,73.89 L93.41,76.60 L94.08,79.34 L94.75,82.11 L95.43,84.91 L96.10,87.73 L96.77,90.57 L97.44,93.44 L98.11,96.32 L98.79,99.21 L99.46,102.11 L100.13,105.03 L100.80,107.94 L101.47,110.86 L102.15,113.78 L102.82,116.69 L103.49,119.60 L104.16,122.49 L104.83,125.38 L105.51,128.24 L106.18,131.09 L106.85,133.92 L107.52,136.73 L108.19,139.51 L108.87,142.25 L109.54,144.97 L110.21,147.65 L110.88,150.30 L111.55,152.90 L112.23,155.46 L112.90,157.97 L113.57,160.44 L114.24,162.86 L114.91,165.22 L115.59,167.53 L116.26,169.78 L116.93,171.97 L117.60,174.10 L118.27,176.16 L118.95,178.16 L119.62,180.09 L120.29,181.94 L120.96,183.73 L121.63,185.44 L122.31,187.08 L122.98,188.64 L123.65,190.12 L124.32,191.52 L124.99,192.84 L125.67,194.07 L126.34,195.23 L127.01,196.29 L127.68,197.27 L128.35,198.16 L129.03,198.96 L129.70,199.67 L130.37,200.30 L131.04,200.83 L131.71,201.27 L132.39,201.62 L133.06,201.88 L133.73,202.04 L134.40,202.11 L135.07,202.09 L135.75,201.98 L136.42,201.77 L137.09,201.47 L137.76,201.09 L138.43,200.60 L139.11,200.03 L139.78,199.37 L140.45,198.62 L141.12,197.77 L141.79,196.84 L142.47,195.83 L143.14,194.72 L143.81,193.54 L144.48,192.26 L145.15,190.91 L145.83,189.47 L146.50,187.96 L147.17,186.36 L147.84,184.69 L148.51,182.95 L149.19,181.13 L149.86,179.24 L150.53,177.28 L151.20,175.25 L151.87,173.16 L152.55,171.00 L153.22,168.78 L153.89,166.51 L154.56,164.18 L155.23,161.79 L155.91,159.35 L156.58,156.86 L157.25,154.33 L157.92,151.75 L158.60,149.13 L159.27,146.47 L159.94,143.77 L160.61,141.04 L161.28,138.28 L161.96,135.49 L162.63,132.67 L163.30,129.83 L163.97,126.97 L164.64,124.10 L165.32,121.21 L165.99,118.31 L166.66,115.40 L167.33,112.48 L168.00,109.56 L168.68,106.65 L169.35,103.73 L170.02,100.82 L170.69,97.92 L171.36,95.04 L172.04,92.16 L172.71,89.31 L173.38,86.47 L174.05,83.66 L174.72,80.87 L175.40,78.12 L176.07,75.39 L176.74,72.70 L177.41,70.04 L178.08,67.42 L178.76,64.85 L179.43,62.32 L180.10,59.84 L180.77,57.40 L181.44,55.02 L182.12,52.69 L182.79,50.42 L183.46,48.20 L184.13,46.05 L184.80,43.96 L185.48,41.93 L186.15,39.97 L186.82,38.08 L187.49,36.26 L188.16,34.51 L188.84,32.84 L189.51,31.24 L190.18,29.72 L190.85,28.28 L191.52,26.92 L192.20,25.64 L192.87,24.44 L193.54,23.32 L194.21,22.29 L194.88,21.35 L195.56,20.49 L196.23,19.72 L196.90,19.04 L197.57,18.45 L198.24,17.95 L198.92,17.53 L199.59,17.21 L200.26,16.98 L200.93,16.84 L201.60,16.79 L202.28,16.83 L202.95,16.97 L203.62,17.19 L204.29,17.50 L204.96,17.91 L205.64,18.41 L206.31,18.99 L206.98,19.66 L207.65,20.43 L208.32,21.28 L209.00,22.21 L209.67,23.24 L210.34,24.35 L211.01,25.54 L211.68,26.81 L212.36,28.17 L213.03,29.60 L213.70,31.12 L214.37,32.71 L215.04,34.38 L215.72,36.12 L216.39,37.94 L217.06,39.82 L217.73,41.77 L218.40,43.79 L219.08,45.88 L219.75,48.03 L220.42,50.24 L221.09,52.51 L221.76,54.83 L222.44,57.21 L223.11,59.64 L223.78,62.12 L224.45,64.65 L225.12,67.22 L225.80,69.83 L226.47,72.48 L227.14,75.17 L227.81,77.90 L228.48,80.65 L229.16,83.44 L229.83,86.25 L230.50,89.08 L231.17,91.94 L231.84,94.81 L232.52,97.69 L233.19,100.59 L233.86,103.50 L234.53,106.41 L235.20,109.33 L235.88,112.25 L236.55,115.16 L237.22,118.07 L237.89,120.98 L238.56,123.87 L239.24,126.74 L239.91,129.60 L240.58,132.44 L241.25,135.26 L241.93,138.05 L242.60,140.82 L243.27,143.55 L243.94,146.25 L244.61,148.92 L245.29,151.54 L245.96,154.12 L246.63,156.66 L247.30,159.15 L247.97,161.60 L248.65,163.99 L249.32,166.33 L249.99,168.61 L250.66,170.83 L251.33,172.99 L252.01,175.09 L252.68,177.12 L253.35,179.08 L254.02,180.98 L254.69,182.80 L255.37,184.56 L256.04,186.23 L256.71,187.83 L257.38,189.36 L258.05,190.80 L258.73,192.16 L259.40,193.44 L260.07,194.63 L260.74,195.74 L261.41,196.77 L262.09,197.70 L262.76,198.55 L263.43,199.31 L264.10,199.98 L264.77,200.56 L265.45,201.05 L266.12,201.45 L266.79,201.75 L267.46,201.97 L268.13,202.09 L268.81,202.11 L269.48,202.05 L270.15,201.89 L270.82,201.64 L271.49,201.30 L272.17,200.87 L272.84,200.34 L273.51,199.73 L274.18,199.02 L274.85,198.23 L275.53,197.34 L276.20,196.37 L276.87,195.31 L277.54,194.17 L278.21,192.94 L278.89,191.63 L279.56,190.23 L280.23,188.76 L280.90,187.21 L281.57,185.58 L282.25,183.87 L282.92,182.09 L283.59,180.24 L284.26,178.31 L284.93,176.32 L285.61,174.26 L286.28,172.14 L286.95,169.95 L287.62,167.71 L288.29,165.40 L288.97,163.05 L289.64,160.63 L290.31,158.17 L290.98,155.66 L291.65,153.10 L292.33,150.50 L293.00,147.86 L293.67,145.19 L294.34,142.47 L295.01,139.73 L295.69,136.95 L296.36,134.15 L297.03,131.32 L297.70,128.47 L298.37,125.60 L299.05,122.72 L299.72,119.83 L300.39,116.92 L301.06,114.01 L301.73,111.09 L302.41,108.17" fill="none" stroke="#C8504F" stroke-width="2"/>
<path d="M33.5,2.7 V215.3 H302.91" fill="none" stroke="#262626" stroke-width="1"/>
<path d="M33.5,215.00 h3.2" stroke="#262626" stroke-width="1"/>
<text x="29.6" y="218.90" text-anchor="end" class="tl">-0.6</text>
<path d="M33.5,179.70 h3.2" stroke="#262626" stroke-width="1"/>
<text x="29.6" y="183.60" text-anchor="end" class="tl">-0.4</text>
<path d="M33.5,144.40 h3.2" stroke="#262626" stroke-width="1"/>
<text x="29.6" y="148.30" text-anchor="end" class="tl">-0.2</text>
<path d="M33.5,109.10 h3.2" stroke="#262626" stroke-width="1"/>
<text x="29.6" y="113.00" text-anchor="end" class="tl">0</text>
<path d="M33.5,73.80 h3.2" stroke="#262626" stroke-width="1"/>
<text x="29.6" y="77.70" text-anchor="end" class="tl">0.2</text>
<path d="M33.5,38.50 h3.2" stroke="#262626" stroke-width="1"/>
<text x="29.6" y="42.40" text-anchor="end" class="tl">0.4</text>
<path d="M33.5,3.20 h3.2" stroke="#262626" stroke-width="1"/>
<text x="29.6" y="7.10" text-anchor="end" class="tl">0.6</text>
<text x="33.60" y="228.8" text-anchor="middle" class="tl">0</text>
<path d="M86.95,215.3 v-3.2" stroke="#262626" stroke-width="1"/>
<text x="86.95" y="228.8" text-anchor="middle" class="tl">5</text>
<path d="M140.30,215.3 v-3.2" stroke="#262626" stroke-width="1"/>
<text x="140.30" y="228.8" text-anchor="middle" class="tl">10</text>
<path d="M193.65,215.3 v-3.2" stroke="#262626" stroke-width="1"/>
<text x="193.65" y="228.8" text-anchor="middle" class="tl">15</text>
<path d="M247.00,215.3 v-3.2" stroke="#262626" stroke-width="1"/>
<text x="247.00" y="228.8" text-anchor="middle" class="tl">20</text>
<path d="M300.35,215.3 v-3.2" stroke="#262626" stroke-width="1"/>
<text x="300.35" y="228.8" text-anchor="middle" class="tl">25</text>
<text x="168" y="240.9" text-anchor="middle" class="lb">Time (s)</text>
<text transform="translate(8.0,109.6) rotate(-90)" text-anchor="middle" class="lb">Joint 2 angle (rad)</text>
<rect x="233.5" y="10.6" width="62" height="52.7" fill="#fff" stroke="#262626" stroke-width="1"/>
<path d="M236,20.1 H261" stroke="#0072BD" stroke-width="1.8" stroke-dasharray="5 5"/>
<path d="M236,37 H261" stroke="#5DC29F" stroke-width="1.8" stroke-dasharray="5 1 3 1"/>
<path d="M236,53.9 H261" stroke="#C8504F" stroke-width="2"/>
<text x="263" y="22.5" class="lg"><tspan class="it">q</tspan><tspan class="sub" dy="4.3"><tspan class="it">d</tspan>2</tspan></text>
<text x="263" y="39.55" class="lg"><tspan class="it">q</tspan><tspan class="sub" dy="4.3">HSM2</tspan></text>
<text x="263" y="56.6" class="lg"><tspan class="it">q</tspan><tspan class="sub" dy="4.3">RSM2</tspan></text>
</g>
<text x="169" y="277" text-anchor="middle" class="cap">(a)</text>
<text x="538.7" y="277" text-anchor="middle" class="cap">(b)</text>
</svg>
</body></html>
